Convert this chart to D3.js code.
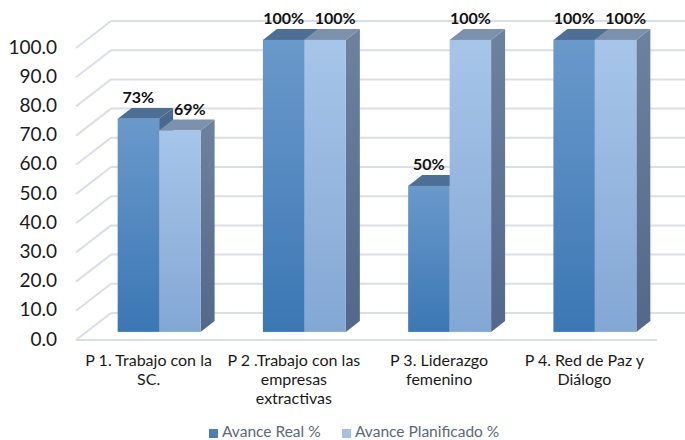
<!DOCTYPE html>
<html><head><meta charset="utf-8">
<script src="https://cdn.jsdelivr.net/npm/d3@7"></script>
<style>html,body{margin:0;padding:0;background:#fff;}svg{display:block;}</style>
</head><body>
<svg id="c" width="685" height="440"></svg>
<script>
const categories = [
  ["P 1. Trabajo con la", "SC."],
  ["P 2 .Trabajo con las", "empresas", "extractivas"],
  ["P 3. Liderazgo", "femenino"],
  ["P 4. Red de Paz y", "Diálogo"]
];
const seriesNames = ["Avance Real %", "Avance Planificado %"];
const avanceReal = [73, 100, 50, 100];
const avancePlanificado = [69, 100, 100, 100];
const yTicks = [0, 10, 20, 30, 40, 50, 60, 70, 80, 90, 100];

const svg = d3.select("#c");
const W = 685;
const DX = 35, DY = -27;          // full depth offset
const zFront = 0.3, zBack = 0.7;  // bar depth range

const x0 = d3.scaleBand().domain(d3.range(categories.length)).range([76, 657])
  .paddingInner(0.429).paddingOuter(0.2145);
const x1 = d3.scaleBand().domain([0, 1]).range([0, x0.bandwidth()]);
const y = d3.scaleLinear().domain([0, 100]).range([340, 48]);

const defs = svg.append("defs");
function grad(id, c1, c2) {
  const g = defs.append("linearGradient").attr("id", id).attr("x1", 0).attr("y1", 0).attr("x2", 0).attr("y2", 1);
  g.append("stop").attr("offset", "0%").attr("stop-color", c1);
  g.append("stop").attr("offset", "100%").attr("stop-color", c2);
}
grad("gDarkFront", "#6a99cb", "#3b77b4");
grad("gLightFront", "#a7c5e9", "#83a7d4");
grad("gLightSide", "#6d829e", "#53688a");
grad("gDarkSide", "#4a6a90", "#2f5a8a");

const gridColor = "#dadee7";
const grid = svg.append("g");
yTicks.forEach(v => {
  const yf = y(v), yb = y(v) + DY;
  grid.append("line").attr("x1", 76).attr("y1", yf).attr("x2", 76 + DX).attr("y2", yb)
    .attr("stroke", gridColor).attr("stroke-width", 2);
  grid.append("line").attr("x1", 76 + DX).attr("y1", yb).attr("x2", W).attr("y2", yb)
    .attr("stroke", gridColor).attr("stroke-width", 2);
});
grid.append("line").attr("x1", 76).attr("y1", y(0)).attr("x2", 657).attr("y2", y(0))
  .attr("stroke", gridColor).attr("stroke-width", 2);

// y-axis labels
svg.append("g").selectAll("text").data(yTicks).join("text")
  .attr("x", 57).attr("y", d => y(d) + 5.5)
  .attr("text-anchor", "end")
  .attr("font-family", "Lato, sans-serif").attr("font-size", 19)
  .attr("fill", "#1a1a1a")
  .text(d => d3.format(".1f")(d));

const series = [
  { vals: avanceReal, front: "url(#gDarkFront)", side: "url(#gDarkSide)", top: "#4e6f95" },
  { vals: avancePlanificado, front: "url(#gLightFront)", side: "url(#gLightSide)", top: "#7c91ae" }
];

const bars = svg.append("g");
const fdx = DX * zFront, fdy = DY * zFront;
const ddx = DX * (zBack - zFront), ddy = DY * (zBack - zFront);
categories.forEach((c, i) => {
  series.forEach((s, k) => {
    const v = s.vals[i];
    const xl = x0(i) + x1(k) + fdx, xr = xl + x1.bandwidth();
    const yt = y(v) + fdy, yb = y(0) + fdy;
    bars.append("path").attr("d", `M${xr},${yt}L${xr + ddx},${yt + ddy}L${xr + ddx},${yb + ddy}L${xr},${yb}Z`)
      .attr("fill", s.side);
    bars.append("path").attr("d", `M${xl},${yt}L${xl + ddx},${yt + ddy}L${xr + ddx},${yt + ddy}L${xr},${yt}Z`)
      .attr("fill", s.top);
    bars.append("rect").attr("x", xl).attr("y", yt).attr("width", xr - xl).attr("height", yb - yt)
      .attr("fill", s.front);
  });
});

// data labels
const labels = svg.append("g");
categories.forEach((c, i) => {
  series.forEach((s, k) => {
    const v = s.vals[i];
    let cx = x0(i) + x1(k) + fdx + x1.bandwidth() / 2;
    if (k === 1 && Math.abs(series[0].vals[i] - v) < 10) cx += 10;
    labels.append("text").attr("x", cx).attr("y", y(v) + fdy + ddy - 5)
      .attr("text-anchor", "middle")
      .attr("font-family", "Lato, sans-serif").attr("font-weight", "bold").attr("font-size", 16)
      .attr("fill", "#111").text(v + "%");
  });
});

// category labels
const cat = svg.append("g");
categories.forEach((lines, i) => {
  const cx = x0(i) + x0.bandwidth() / 2;
  const t = cat.append("text").attr("text-anchor", "middle")
    .attr("font-family", "Lato, sans-serif").attr("font-size", 16).attr("fill", "#1a1a1a");
  lines.forEach((ln, j) => {
    t.append("tspan").attr("x", cx).attr("y", 366 + j * 18.8).text(ln);
  });
});

// legend
const leg = svg.append("g");
const legItems = [
  { name: seriesNames[0], color: "#4a7fb8", x: 209 },
  { name: seriesNames[1], color: "#a4c1e4", x: 342 }
];
legItems.forEach(it => {
  leg.append("rect").attr("x", it.x).attr("y", 429).attr("width", 9).attr("height", 9).attr("fill", it.color);
  leg.append("text").attr("x", it.x + 13).attr("y", 437)
    .attr("font-family", "Lato, sans-serif").attr("font-size", 15.5).attr("fill", "#5a687c")
    .text(it.name);
});
</script>
</body></html>
